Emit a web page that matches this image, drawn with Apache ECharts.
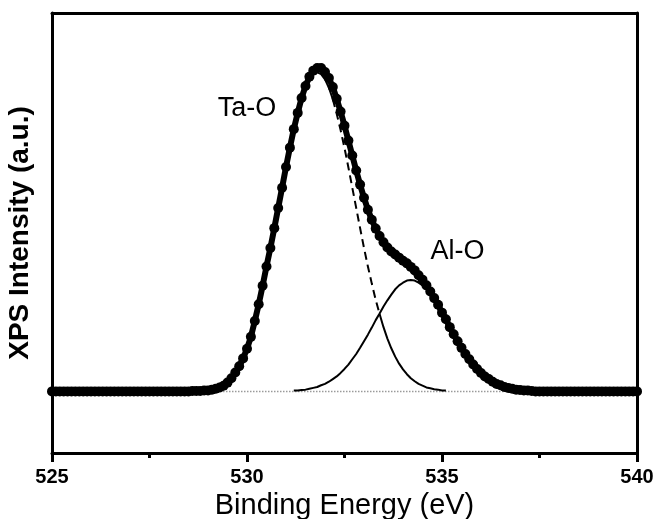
<!DOCTYPE html>
<html>
<head>
<meta charset="utf-8">
<title>XPS O 1s</title>
<script src="https://cdn.jsdelivr.net/npm/echarts@6.0.0/dist/echarts.min.js"></script>
<style>
html, body { margin: 0; padding: 0; background: #fff; }
#xps { width: 655px; height: 519px; }
</style>
</head>
<body>
<div id="xps"></div>
<script>
// binding energy (eV), one row per eV
var energy = [
  525.0, 525.1, 525.2, 525.3, 525.4, 525.5, 525.6, 525.7, 525.8, 525.9,
  526.0, 526.1, 526.2, 526.3, 526.4, 526.5, 526.6, 526.7, 526.8, 526.9,
  527.0, 527.1, 527.2, 527.3, 527.4, 527.5, 527.6, 527.7, 527.8, 527.9,
  528.0, 528.1, 528.2, 528.3, 528.4, 528.5, 528.6, 528.7, 528.8, 528.9,
  529.0, 529.1, 529.2, 529.3, 529.4, 529.5, 529.6, 529.7, 529.8, 529.9,
  530.0, 530.1, 530.2, 530.3, 530.4, 530.5, 530.6, 530.7, 530.8, 530.9,
  531.0, 531.1, 531.2, 531.3, 531.4, 531.5, 531.6, 531.7, 531.8, 531.9,
  532.0, 532.1, 532.2, 532.3, 532.4, 532.5, 532.6, 532.7, 532.8, 532.9,
  533.0, 533.1, 533.2, 533.3, 533.4, 533.5, 533.6, 533.7, 533.8, 533.9,
  534.0, 534.1, 534.2, 534.3, 534.4, 534.5, 534.6, 534.7, 534.8, 534.9,
  535.0, 535.1, 535.2, 535.3, 535.4, 535.5, 535.6, 535.7, 535.8, 535.9,
  536.0, 536.1, 536.2, 536.3, 536.4, 536.5, 536.6, 536.7, 536.8, 536.9,
  537.0, 537.1, 537.2, 537.3, 537.4, 537.5, 537.6, 537.7, 537.8, 537.9,
  538.0, 538.1, 538.2, 538.3, 538.4, 538.5, 538.6, 538.7, 538.8, 538.9,
  539.0, 539.1, 539.2, 539.3, 539.4, 539.5, 539.6, 539.7, 539.8, 539.9,
  540.0
];

// measured O 1s intensity above background (a.u.)
var intensity = [
  0, 0, 0, 0, 0, 0, 0, 0, 0, 0,
  0, 0, 0, 0, 0, 0, 0, 0, 0, 0,
  0, 0, 0, 0, 0, 0, 0, 0, 0, 0,
  0, 0, 0, 0, 0, 0, 0.001, 0.001, 0.001, 0.002,
  0.002, 0.004, 0.006, 0.009, 0.013, 0.020, 0.030, 0.043, 0.057, 0.075,
  0.097, 0.124, 0.160, 0.198, 0.240, 0.284, 0.326, 0.371, 0.417, 0.463,
  0.510, 0.554, 0.596, 0.633, 0.667, 0.694, 0.715, 0.729, 0.735, 0.735,
  0.726, 0.712, 0.692, 0.665, 0.636, 0.604, 0.570, 0.536, 0.502, 0.470,
  0.440, 0.413, 0.390, 0.370, 0.353, 0.339, 0.327, 0.318, 0.311, 0.304,
  0.297, 0.291, 0.283, 0.275, 0.264, 0.254, 0.241, 0.227, 0.212, 0.197,
  0.179, 0.164, 0.146, 0.130, 0.114, 0.099, 0.085, 0.073, 0.061, 0.051,
  0.042, 0.034, 0.028, 0.022, 0.017, 0.014, 0.010, 0.008, 0.006, 0.004,
  0.003, 0.002, 0.002, 0.001, 0, 0, 0, 0, 0, 0,
  0, 0, 0, 0, 0, 0, 0, 0, 0, 0,
  0, 0, 0, 0, 0, 0, 0, 0, 0, 0,
  0
];

// fitted Ta-O component
var taO = [
  0, 0, 0, 0, 0, 0, 0, 0, 0, 0,
  0, 0, 0, 0, 0, 0, 0, 0, 0, 0,
  0, 0, 0, 0, 0, 0, 0, 0, 0, 0,
  0, 0, 0, 0, 0, 0, 0.001, 0.001, 0.001, 0.002,
  0.002, 0.004, 0.006, 0.009, 0.013, 0.020, 0.030, 0.043, 0.057, 0.075,
  0.097, 0.124, 0.160, 0.198, 0.240, 0.284, 0.326, 0.371, 0.417, 0.463,
  0.509, 0.553, 0.594, 0.631, 0.664, 0.690, 0.709, 0.721, 0.725, 0.721,
  0.709, 0.690, 0.664, 0.631, 0.594, 0.553, 0.509, 0.463, 0.417, 0.371,
  0.326, 0.284, 0.245, 0.208, 0.176, 0.146, 0.120, 0.098, 0.079, 0.063,
  0.050, 0.039, 0.030, 0.023, 0.017, 0.013, 0.009, 0.007, 0.005, 0.004,
  0.002, 0.002, 0.001, 0.001, 0, 0, 0, 0, 0, 0,
  0, 0, 0, 0, 0, 0, 0, 0, 0, 0,
  0, 0, 0, 0, 0, 0, 0, 0, 0, 0,
  0, 0, 0, 0, 0, 0, 0, 0, 0, 0,
  0, 0, 0, 0, 0, 0, 0, 0, 0, 0,
  0
];

// fitted Al-O component
var alO = [
  0, 0, 0, 0, 0, 0, 0, 0, 0, 0,
  0, 0, 0, 0, 0, 0, 0, 0, 0, 0,
  0, 0, 0, 0, 0, 0, 0, 0, 0, 0,
  0, 0, 0, 0, 0, 0, 0, 0, 0, 0,
  0, 0, 0, 0, 0, 0, 0, 0, 0, 0,
  0, 0, 0, 0, 0, 0, 0, 0, 0, 0.001,
  0.001, 0.001, 0.002, 0.002, 0.003, 0.004, 0.006, 0.008, 0.010, 0.014,
  0.017, 0.022, 0.028, 0.034, 0.042, 0.051, 0.061, 0.073, 0.085, 0.099,
  0.114, 0.129, 0.145, 0.162, 0.177, 0.193, 0.207, 0.220, 0.232, 0.241,
  0.247, 0.252, 0.253, 0.252, 0.247, 0.241, 0.232, 0.220, 0.207, 0.193,
  0.177, 0.162, 0.145, 0.129, 0.114, 0.099, 0.085, 0.073, 0.061, 0.051,
  0.042, 0.034, 0.028, 0.022, 0.017, 0.014, 0.010, 0.008, 0.006, 0.004,
  0.003, 0.002, 0.002, 0.001, 0, 0, 0, 0, 0, 0,
  0, 0, 0, 0, 0, 0, 0, 0, 0, 0,
  0, 0, 0, 0, 0, 0, 0, 0, 0, 0,
  0
];

// background line ends
var bgEnergy = [525, 540];
var bgValue = [0, 0];

// peak labels
var peakNames = ['Ta-O', 'Al-O'];
var peakLabelE = [530.0, 535.4];
var peakLabelY = [0.642, 0.318];

// part of the Ta-O fit drawn dashed
var dashFrom = 532.2, dashTo = 533.4;

var fontFam = "'Liberation Sans', Arial, Helvetica, sans-serif";

function pairs(vals, keep) {
  var out = [];
  for (var i = 0; i < energy.length; i++) {
    if (keep(energy[i], vals[i])) out.push([energy[i], vals[i]]);
  }
  return out;
}

var dataPts = pairs(intensity, function () { return true; });
var taLeft = pairs(taO, function (e, v) { return e <= dashFrom && v >= 0.002; });
var taDash = pairs(taO, function (e) { return e >= dashFrom && e <= dashTo; });
var taRight = pairs(taO, function (e, v) { return e >= dashTo && v >= 0.002; });
var alPts = pairs(alO, function (e, v) { return v >= 0.002; });
var bgPts = bgEnergy.map(function (e, i) { return [e, bgValue[i]]; });
var labelPts = peakNames.map(function (n, i) { return { name: n, value: [peakLabelE[i], peakLabelY[i]] }; });

var dom = document.getElementById('xps');
var myChart = echarts.init(dom);
var axisLine = { show: true, onZero: false, lineStyle: { color: '#000', width: 3 } };
var fitLine = function (dash) {
  return { type: 'line', symbol: 'none', silent: true, z: 3,
           lineStyle: { color: '#000', width: 2, type: dash ? [8, 5] : 'solid' } };
};

var option = {
  animation: false,
  backgroundColor: '#fff',
  grid: { left: 52, right: 18, top: 13, bottom: 66, containLabel: false, outerBoundsMode: 'none' },
  xAxis: [{
    type: 'value', min: 525, max: 540, interval: 5,
    name: 'Binding Energy (eV)', nameLocation: 'middle', nameGap: 38,
    nameTextStyle: { fontFamily: fontFam, fontSize: 29, color: '#000' },
    axisLine: axisLine,
    axisTick: { show: true, inside: false, length: 9, lineStyle: { color: '#000', width: 3 } },
    minorTick: { show: true, splitNumber: 2, length: 5, lineStyle: { color: '#000', width: 3 } },
    axisLabel: { margin: 14, fontFamily: fontFam, fontSize: 20, fontWeight: 'bold', color: '#000' },
    splitLine: { show: false }
  }, {
    type: 'value', position: 'top', min: 525, max: 540,
    axisLine: axisLine, axisTick: { show: false }, axisLabel: { show: false }, splitLine: { show: false }
  }],
  yAxis: [{
    type: 'value', min: -0.14, max: 0.86,
    name: 'XPS Intensity (a.u.)', nameLocation: 'middle', nameGap: 18,
    nameTextStyle: { fontFamily: fontFam, fontSize: 28, fontWeight: 'bold', color: '#000' },
    axisLine: axisLine, axisTick: { show: false }, axisLabel: { show: false }, splitLine: { show: false }
  }, {
    type: 'value', position: 'right', min: -0.14, max: 0.86,
    axisLine: axisLine, axisTick: { show: false }, axisLabel: { show: false }, splitLine: { show: false }
  }],
  series: [
    { type: 'line', name: 'background', data: bgPts, symbol: 'none', silent: true, z: 1,
      lineStyle: { color: '#9a9a9a', width: 1.5, type: 'dotted' } },
    Object.assign(fitLine(false), { name: 'Al-O', data: alPts }),
    Object.assign(fitLine(false), { name: 'Ta-O', data: taLeft }),
    Object.assign(fitLine(true), { name: 'Ta-O dash', data: taDash }),
    Object.assign(fitLine(false), { name: 'Ta-O tail', data: taRight }),
    { type: 'line', name: 'data', data: dataPts, z: 5,
      symbol: 'circle', symbolSize: 10, showAllSymbol: true,
      itemStyle: { color: '#000' }, lineStyle: { color: '#000', width: 6 } },
    { type: 'scatter', name: 'labels', data: labelPts, symbolSize: 0, z: 6, silent: true,
      itemStyle: { color: '#000', opacity: 1 },
      label: { show: true, position: 'inside', formatter: '{b}', opacity: 1,
               fontFamily: fontFam, fontSize: 27, color: '#000' } }
  ]
};
if (option && typeof option === 'object') {
  myChart.setOption(option, true);
}
</script>
</body>
</html>
